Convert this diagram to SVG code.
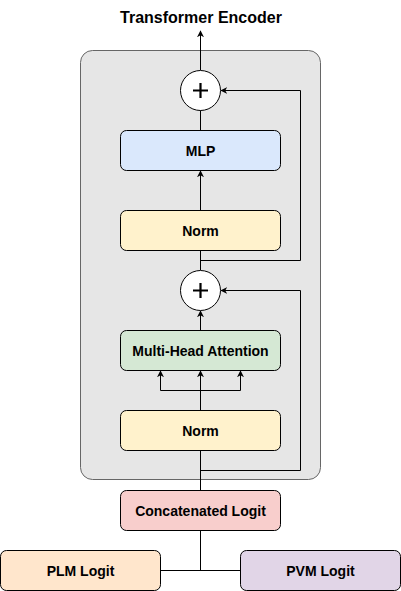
<svg xmlns="http://www.w3.org/2000/svg" width="401" height="591" viewBox="0 0 401 591">
<style>
.box{stroke:#000;stroke-width:1}
.lbl{font-family:"Liberation Sans",Arial,Helvetica,sans-serif;font-weight:bold;font-size:14px;fill:#000;text-anchor:middle;dominant-baseline:central}
.ln{fill:none;stroke:#000;stroke-width:1}
</style>
<defs>
<marker id="ah" viewBox="0 0 10 10" refX="9" refY="5" markerWidth="7" markerHeight="7" markerUnits="userSpaceOnUse" orient="auto">
<path d="M0,0 L10,5 L0,10 L3,5 Z" fill="#000"/>
</marker>
</defs>
<rect id="container" x="80.5" y="50.5" width="240" height="429" rx="12" fill="#e6e6e6" stroke="#666666"/>
<text class="lbl" x="201" y="17" style="font-size:16px">Transformer Encoder</text>
<g id="connectors">
<path class="ln" d="M200.5,70 L200.5,31" marker-end="url(#ah)"/>
<path class="ln" d="M200.5,130 L200.5,110"/>
<path class="ln" d="M200.5,210 L200.5,171" marker-end="url(#ah)"/>
<path class="ln" d="M200.5,250 L200.5,270"/>
<path class="ln" d="M200.5,260.5 L300.5,260.5 L300.5,90.5 L221,90.5" marker-end="url(#ah)"/>
<path class="ln" d="M200.5,330 L200.5,311" marker-end="url(#ah)"/>
<path class="ln" d="M200.5,410 L200.5,371" marker-end="url(#ah)"/>
<path class="ln" d="M160.5,390.5 L240.5,390.5"/>
<path class="ln" d="M160.5,390.5 L160.5,371" marker-end="url(#ah)"/>
<path class="ln" d="M240.5,390.5 L240.5,371" marker-end="url(#ah)"/>
<path class="ln" d="M200.5,450 L200.5,490"/>
<path class="ln" d="M200.5,470.5 L300.5,470.5 L300.5,290.5 L221,290.5" marker-end="url(#ah)"/>
<path class="ln" d="M200.5,530 L200.5,570.5"/>
<path class="ln" d="M160,570.5 L240,570.5"/>
</g>
<g id="add1">
<circle cx="200.5" cy="90.5" r="20" fill="#fff" stroke="#000"/>
<path d="M193,90.5 H208 M200.5,83 V98" stroke="#000" stroke-width="2.2"/>
</g>
<g id="mlp">
<rect class="box" x="120.5" y="130.5" width="160" height="40" rx="6" fill="#dae8fc"/>
<text class="lbl" x="200.5" y="150.5">MLP</text>
</g>
<g id="norm1">
<rect class="box" x="120.5" y="210.5" width="160" height="40" rx="6" fill="#fff2cc"/>
<text class="lbl" x="200.5" y="230.5">Norm</text>
</g>
<g id="add2">
<circle cx="200.5" cy="290.5" r="20" fill="#fff" stroke="#000"/>
<path d="M193,290.5 H208 M200.5,283 V298" stroke="#000" stroke-width="2.2"/>
</g>
<g id="mha">
<rect class="box" x="120.5" y="330.5" width="160" height="40" rx="6" fill="#d5e8d4"/>
<text class="lbl" x="200.5" y="350.5">Multi-Head Attention</text>
</g>
<g id="norm2">
<rect class="box" x="120.5" y="410.5" width="160" height="40" rx="6" fill="#fff2cc"/>
<text class="lbl" x="200.5" y="430.5">Norm</text>
</g>
<g id="concat">
<rect class="box" x="120.5" y="490.5" width="160" height="40" rx="6" fill="#f8cecc"/>
<text class="lbl" x="200.5" y="510.5">Concatenated Logit</text>
</g>
<g id="plm">
<rect class="box" x="0.5" y="550.5" width="160" height="40" rx="6" fill="#ffe6cc"/>
<text class="lbl" x="80.5" y="570.5">PLM Logit</text>
</g>
<g id="pvm">
<rect class="box" x="240.5" y="550.5" width="160" height="40" rx="6" fill="#e1d5e7"/>
<text class="lbl" x="320.5" y="570.5">PVM Logit</text>
</g>
</svg>
